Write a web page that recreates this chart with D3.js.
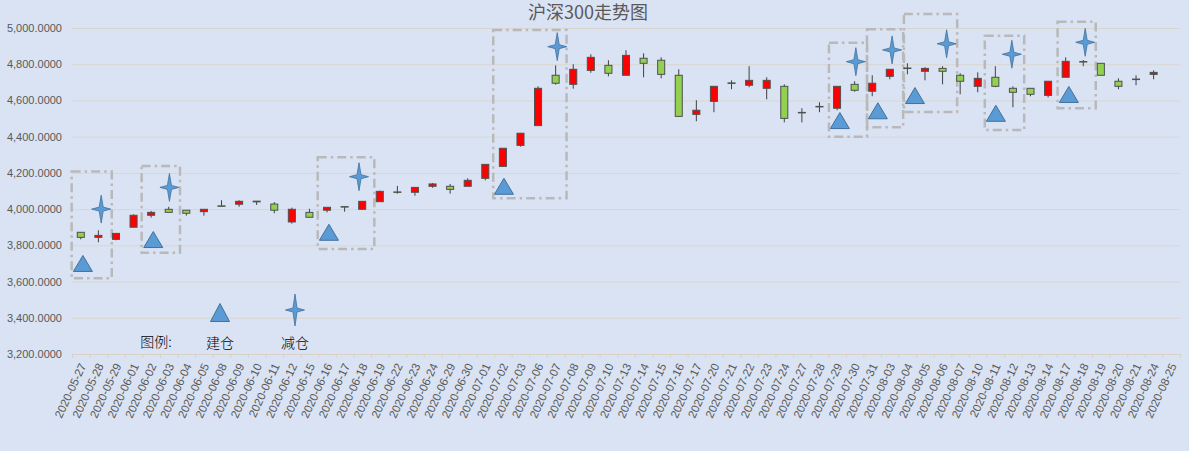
<!DOCTYPE html>
<html>
<head>
<meta charset="utf-8">
<script src="https://cdn.jsdelivr.net/npm/d3@7"></script>
<style>
  body { margin: 0; background: #dae3f3; }
  svg { display: block; }
</style>
</head>
<body>
<svg id="chart" width="1189" height="451"></svg>
<script>
/* eslint-env browser */
/* global d3: false */

const dates = [
  '2020-05-27', '2020-05-28', '2020-05-29', '2020-06-01', '2020-06-02', '2020-06-03',
  '2020-06-04', '2020-06-05', '2020-06-08', '2020-06-09', '2020-06-10', '2020-06-11',
  '2020-06-12', '2020-06-15', '2020-06-16', '2020-06-17', '2020-06-18', '2020-06-19',
  '2020-06-22', '2020-06-23', '2020-06-24', '2020-06-29', '2020-06-30', '2020-07-01',
  '2020-07-02', '2020-07-03', '2020-07-06', '2020-07-07', '2020-07-08', '2020-07-09',
  '2020-07-10', '2020-07-13', '2020-07-14', '2020-07-15', '2020-07-16', '2020-07-17',
  '2020-07-20', '2020-07-21', '2020-07-22', '2020-07-23', '2020-07-24', '2020-07-27',
  '2020-07-28', '2020-07-29', '2020-07-30', '2020-07-31', '2020-08-03', '2020-08-04',
  '2020-08-05', '2020-08-06', '2020-08-07', '2020-08-10', '2020-08-11', '2020-08-12',
  '2020-08-13', '2020-08-14', '2020-08-17', '2020-08-18', '2020-08-19', '2020-08-20',
  '2020-08-21', '2020-08-24', '2020-08-25'];

const open = [
  3872, 3844, 3833, 3900, 3966, 3999, 3994, 3986, 4018, 4027, 4044, 4028,
  3929, 3982, 3994, 4014, 3999, 4041, 4095, 4093, 4126, 4126, 4126, 4170,
  4236, 4352, 4461, 4739, 4689, 4766, 4794, 4739, 4833, 4822, 4739, 4523,
  4595, 4697, 4684, 4667, 4678, 4532, 4565, 4557, 4689, 4651, 4733, 4779,
  4761, 4777, 4739, 4678, 4728, 4667, 4667, 4628, 4728, 4815, 4805, 4706,
  4718, 4744, null];
const high = [
  3872, 3883, 3866, 3971, 3990, 4013, 3994, 3999, 4049, 4049, 4045, 4039,
  4008, 4002, 4010, 4014, 4043, 4102, 4128, 4120, 4144, 4139, 4170, 4247,
  4336, 4419, 4678, 4794, 4800, 4855, 4822, 4877, 4860, 4838, 4772, 4601,
  4678, 4711, 4789, 4728, 4689, 4557, 4590, 4678, 4706, 4739, 4772, 4805,
  4783, 4789, 4750, 4755, 4789, 4678, 4667, 4706, 4838, 4823, 4805, 4722,
  4739, 4766, null];
const low = [
  3833, 3817, 3828, 3900, 3953, 3982, 3964, 3964, 4015, 4013, 4023, 3977,
  3920, 3955, 3982, 3986, 3995, 4041, 4085, 4074, 4118, 4085, 4126, 4159,
  4236, 4345, 4461, 4687, 4665, 4753, 4733, 4739, 4728, 4722, 4512, 4485,
  4535, 4662, 4673, 4606, 4479, 4479, 4535, 4546, 4648, 4623, 4717, 4744,
  4711, 4689, 4634, 4645, 4673, 4562, 4623, 4617, 4728, 4789, 4739, 4662,
  4684, 4717, null];
const close = [
  3844, 3855, 3866, 3966, 3982, 3982, 3977, 3999, 4016, 4043, 4040, 3994,
  3999, 3955, 4010, 4011, 4043, 4098, 4093, 4120, 4139, 4109, 4159, 4247,
  4336, 4419, 4667, 4695, 4772, 4838, 4750, 4849, 4805, 4744, 4512, 4546,
  4678, 4694, 4711, 4711, 4501, 4534, 4567, 4678, 4656, 4695, 4772, 4777,
  4777, 4761, 4706, 4722, 4678, 4645, 4634, 4706, 4816, 4812, 4739, 4678,
  4716, 4755, null];

// 建仓 / 减仓 markers: position in category units, price level
const buyPos = [0.12, 4.12, 14.11, 24.06, 43.16, 45.32, 47.43, 52.03, 56.18];
const buyVal = [3700, 3832, 3872, 4126, 4489, 4543, 4627, 4529, 4633];
const sellPos = [1.16, 5.04, 15.82, 27.09, 44.07, 46.13, 49.23, 52.94, 57.11];
const sellVal = [4000, 4120, 4179, 4897, 4814, 4879, 4913, 4855, 4921];

// dashed highlight frames: category range and price range
const frameFrom = [-0.52, 3.46, 13.47, 23.45, 42.54, 44.7, 46.8, 51.4, 55.54];
const frameTo = [1.76, 5.64, 16.69, 27.62, 44.71, 46.76, 49.83, 53.64, 57.71];
const frameTop = [4207, 4238, 4286, 4989, 4919, 4993, 5077, 4957, 5035];
const frameBottom = [3618, 3759, 3780, 4060, 4400, 4452, 4536, 4437, 4557];

const yTicks = [3200, 3400, 3600, 3800, 4000, 4200, 4400, 4600, 4800, 5000];

const svg = d3.select('#chart');
const plotLeft = 72;
const plotRight = 1180;
const plotTop = 28;
const plotBottom = 354;
const textColor = '#595959';
const numFont = '"Liberation Sans", Arial, sans-serif';
const cjkFont = '"Noto Sans CJK SC", "Noto Sans", sans-serif';

const x = d3.scaleBand().domain(dates).range([plotLeft, plotRight]);
const xPos = d3.scaleLinear().domain([-0.5, dates.length - 0.5]).range([plotLeft, plotRight]);
const y = d3.scaleLinear().domain([3200, 5000]).range([plotBottom, plotTop]);

svg.append('rect')
  .attr('width', 1189)
  .attr('height', 451)
  .attr('fill', '#dae3f3');

svg.append('text')
  .attr('x', 588)
  .attr('y', 19)
  .attr('text-anchor', 'middle')
  .attr('font-family', cjkFont)
  .attr('font-size', 18)
  .attr('fill', textColor)
  .text('沪深300走势图');

// grid + y labels
const yAxis = svg.append('g')
  .attr('transform', `translate(${plotLeft},0)`)
  .call(d3.axisLeft(y)
    .tickValues(yTicks)
    .tickSize(-(plotRight - plotLeft))
    .tickPadding(10)
    .tickFormat(d3.format(',.4f')));
yAxis.select('.domain').remove();
yAxis.selectAll('line').attr('stroke', '#d9d6d0');
yAxis.selectAll('text')
  .attr('fill', textColor)
  .attr('font-family', numFont)
  .attr('font-size', 11);

// x axis ticks at category boundaries
const xTicks = svg.append('g')
  .attr('transform', `translate(0,${plotBottom})`)
  .call(d3.axisBottom(xPos)
    .tickValues(d3.range(-0.5, dates.length, 1))
    .tickSize(4)
    .tickFormat(''));
xTicks.select('.domain').attr('stroke', '#d9d2c4');
xTicks.selectAll('line').attr('stroke', '#d9d2c4');

const xAxis = svg.append('g')
  .attr('transform', `translate(0,${plotBottom})`)
  .call(d3.axisBottom(x).tickSize(0).tickPadding(0));
xAxis.select('.domain').remove();
xAxis.selectAll('text')
  .attr('fill', textColor)
  .attr('font-family', numFont)
  .attr('font-size', 11.5)
  .attr('text-anchor', 'end')
  .attr('dy', '0.35em')
  .attr('transform', 'translate(2,10) rotate(-65)')
  .attr('y', 0);

// dashed frames
svg.append('g')
  .selectAll('rect')
  .data(frameFrom)
  .join('rect')
  .attr('x', (d) => xPos(d))
  .attr('y', (d, i) => y(frameTop[i]))
  .attr('width', (d, i) => xPos(frameTo[i]) - xPos(d))
  .attr('height', (d, i) => y(frameBottom[i]) - y(frameTop[i]))
  .attr('fill', 'none')
  .attr('stroke', '#b9b9b9')
  .attr('stroke-width', 2.5)
  .attr('stroke-dasharray', '9,4,2.5,4');

// candles
const candles = dates
  .map((d, i) => ({
    date: d, o: open[i], h: high[i], l: low[i], c: close[i],
  }))
  .filter((d) => d.o !== null);

const bodyW = x.bandwidth() * 0.4;
const cg = svg.append('g')
  .selectAll('g')
  .data(candles)
  .join('g')
  .attr('transform', (d) => `translate(${x(d.date) + (x.bandwidth() / 2)},0)`);

cg.append('line')
  .attr('y1', (d) => y(d.h))
  .attr('y2', (d) => y(d.l))
  .attr('stroke', '#404040')
  .attr('stroke-width', 1);

cg.append('rect')
  .attr('x', -bodyW / 2)
  .attr('y', (d) => y(Math.max(d.o, d.c)))
  .attr('width', bodyW)
  .attr('height', (d) => Math.max(0.5, Math.abs(y(d.o) - y(d.c))))
  .attr('fill', (d) => (d.c >= d.o ? '#ff0000' : '#92d050'))
  .attr('stroke', '#505050')
  .attr('stroke-width', 1);

function trianglePath(w, h) {
  return `M0,${-h / 2}L${w / 2},${h / 2}L${-w / 2},${h / 2}Z`;
}

function starPath(w, h) {
  const i = 2;
  const rx = w / 2;
  const ry = h / 2;
  return `M0,${-ry}L${i},${-i}L${rx},0L${i},${i}L0,${ry}L${-i},${i}L${-rx},0L${-i},${-i}Z`;
}

const markFill = '#5b9bd5';
const markStroke = '#41719c';

svg.append('g')
  .selectAll('path')
  .data(buyPos)
  .join('path')
  .attr('transform', (d, i) => `translate(${xPos(d)},${y(buyVal[i])})`)
  .attr('d', trianglePath(19, 16))
  .attr('fill', markFill)
  .attr('stroke', markStroke)
  .attr('stroke-width', 1);

svg.append('g')
  .selectAll('path')
  .data(sellPos)
  .join('path')
  .attr('transform', (d, i) => `translate(${xPos(d)},${y(sellVal[i])})`)
  .attr('d', starPath(19, 28))
  .attr('fill', markFill)
  .attr('stroke', markStroke)
  .attr('stroke-width', 0.8);

// legend
const legendItems = [
  { label: '图例:', x: 156, y: 347 },
  { label: '建仓', x: 220, y: 348 },
  { label: '减仓', x: 295, y: 348 },
];
const legend = svg.append('g');
legend.selectAll('text')
  .data(legendItems)
  .join('text')
  .attr('x', (d) => d.x)
  .attr('y', (d) => d.y)
  .attr('text-anchor', 'middle')
  .attr('font-family', cjkFont)
  .attr('font-size', 14)
  .attr('font-weight', 300)
  .attr('fill', '#000')
  .text((d) => d.label);
legend.append('path')
  .attr('transform', 'translate(220,312.5)')
  .attr('d', trianglePath(19, 18))
  .attr('fill', markFill)
  .attr('stroke', markStroke);
legend.append('path')
  .attr('transform', 'translate(295,310)')
  .attr('d', starPath(19, 32))
  .attr('fill', markFill)
  .attr('stroke', markStroke)
  .attr('stroke-width', 0.8);
</script>
</body>
</html>
